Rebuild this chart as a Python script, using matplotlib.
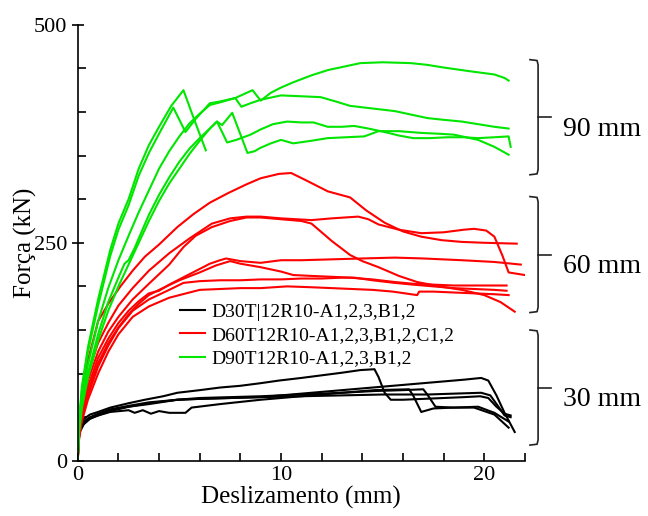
import matplotlib
matplotlib.use("Agg")
import matplotlib.pyplot as plt
from matplotlib.ticker import MultipleLocator, FixedLocator

plt.rcParams['font.family'] = ['Liberation Serif', 'DejaVu Serif']

# ---- 30 mm series (black) ----
b1_x = [0, 0.02, 0.1, 0.3, 0.6, 1.0, 1.6, 2.5, 3.3, 4.2, 4.9, 6.0, 7.0, 8.0, 9.0, 9.9, 11.0, 12.0, 13.0, 13.9, 14.6, 14.8, 15.1, 15.4, 16.0, 17.0, 18.0, 19.0, 19.8, 20.2, 20.6, 21.0, 21.3]
b1_y = [0, 28, 40, 48, 53, 56, 61, 66, 70, 74, 78, 81, 84, 86, 89, 92, 95, 98, 101, 104, 105, 96, 78, 70, 70, 71, 72, 73, 74, 72, 62, 54, 52]
b2_x = [0, 0.02, 0.1, 0.3, 0.6, 1.0, 1.6, 2.5, 3.5, 4.9, 6.0, 7.5, 9.0, 11.0, 13.0, 15.0, 17.0, 19.0, 19.85, 20.2, 20.6, 21.0, 21.5]
b2_y = [0, 25, 36, 44, 49, 52, 57, 62, 66, 70, 71, 72, 73, 77, 81, 85, 89, 93, 95, 92, 75, 55, 33]
b3_x = [0, 0.02, 0.1, 0.3, 0.6, 1.0, 1.6, 2.5, 2.8, 3.2, 3.6, 4.0, 4.5, 5.3, 5.6, 7.0, 9.0, 11.0, 13.0, 14.6, 16.3, 16.5, 16.9, 17.5, 18.5, 19.7, 20.5, 21.2]
b3_y = [0, 22, 33, 42, 48, 52, 56, 58, 55, 58, 54, 57, 55, 55, 61, 65, 70, 74, 78, 81, 82, 75, 56, 60, 61, 62, 55, 45]
b4_x = [0, 0.02, 0.1, 0.3, 0.6, 1.0, 1.6, 2.5, 3.5, 4.9, 6.0, 7.5, 9.0, 11.0, 13.0, 14.6, 16.0, 17.0, 17.2, 17.6, 18.5, 19.5, 20.5, 21.2]
b4_y = [0, 24, 35, 43, 49, 53, 58, 62, 65, 70, 72, 73, 74, 76, 78, 80, 81, 82, 76, 62, 61, 61, 53, 38]
b5_x = [0, 0.02, 0.1, 0.3, 0.6, 1.0, 1.6, 2.5, 3.5, 4.9, 6.0, 7.5, 9.0, 11.0, 13.0, 15.0, 17.2, 18.5, 19.85, 20.3, 20.7, 21.0, 21.3]
b5_y = [0, 26, 37, 45, 50, 54, 59, 63, 67, 70, 71, 72, 73, 74, 75, 76, 76, 77, 78, 75, 62, 52, 50]

# ---- 60 mm series (red) ----
r1_x = [0, 0.05, 0.2, 0.5, 1.0, 1.5, 2.1, 2.7, 3.3, 4.0, 4.9, 5.7, 6.5, 7.4, 8.3, 9.0, 9.9, 10.5, 11.2, 12.3, 13.4, 14.2, 15.1, 16.0, 16.9, 17.9, 18.9, 20.0, 21.6]
r1_y = [0, 40, 75, 115, 160, 180, 200, 218, 234, 248, 268, 283, 296, 307, 317, 324, 329, 330, 322, 309, 302, 287, 273, 263, 257, 253, 251, 250, 249]
r2_x = [0, 0.05, 0.2, 0.5, 1.0, 1.5, 2.0, 2.7, 3.5, 4.5, 5.5, 6.6, 7.5, 8.3, 9.0, 10.0, 11.5, 12.5, 13.8, 14.3, 14.8, 15.8, 16.9, 18.0, 19.0, 19.5, 20.1, 20.5, 20.9, 21.2, 22.0]
r2_y = [0, 35, 65, 100, 135, 158, 178, 198, 218, 238, 255, 272, 278, 280, 280, 278, 276, 278, 280, 277, 271, 265, 261, 262, 265, 266, 264, 257, 235, 216, 213]
r3_x = [0, 0.05, 0.2, 0.5, 1.0, 1.5, 2.0, 2.7, 3.5, 4.5, 5.2, 5.8, 6.6, 7.5, 8.3, 9.0, 10.0, 11.0, 11.5, 12.5, 13.4, 14.0, 14.8, 15.8, 16.7, 17.8, 18.9, 20.0, 20.8, 21.5]
r3_y = [0, 33, 60, 92, 125, 148, 165, 185, 203, 225, 245, 258, 268, 275, 279, 279, 277, 275, 272, 252, 236, 229, 222, 212, 205, 200, 196, 190, 182, 171]
r4_x = [0, 0.05, 0.2, 0.5, 1.0, 1.5, 2.0, 2.5, 3.0, 3.5, 4.0, 4.5, 5.0, 5.5, 6.0, 6.5, 7.0, 7.3, 8.0, 9.0, 10.0, 11.0, 12.5, 14.0, 15.6, 17.0, 18.9, 20.5, 21.8]
r4_y = [0, 30, 55, 85, 118, 140, 158, 172, 183, 192, 195, 202, 208, 214, 220, 226, 230, 232, 229, 227, 230, 230, 231, 232, 233, 232, 230, 228, 225]
r5_x = [0, 0.05, 0.2, 0.5, 1.0, 1.5, 2.0, 2.5, 3.0, 3.5, 4.0, 5.0, 6.0, 6.8, 7.5, 8.0, 9.0, 10.0, 10.6, 11.5, 12.5, 13.4, 14.5, 15.6, 16.5, 17.5, 18.5, 19.5, 20.5, 21.1]
r5_y = [0, 28, 52, 80, 112, 135, 153, 168, 180, 190, 196, 207, 216, 224, 229, 226, 222, 217, 213, 212, 211, 210, 208, 205, 203, 202, 201, 201, 201, 201]
r6_x = [0, 0.05, 0.2, 0.5, 1.0, 1.5, 2.0, 2.7, 3.5, 4.5, 5.2, 6.0, 7.0, 8.0, 9.0, 10.0, 11.0, 12.0, 13.0, 13.6, 14.5, 15.6, 16.5, 17.5, 18.5, 19.5, 20.5, 21.1]
r6_y = [0, 25, 48, 75, 108, 132, 152, 172, 185, 196, 204, 206, 207, 207, 208, 208, 209, 209, 210, 210, 207, 204, 202, 200, 198, 197, 196, 195]
r7_x = [0, 0.05, 0.2, 0.5, 1.0, 1.5, 2.0, 2.7, 3.5, 4.5, 5.5, 6.0, 7.0, 8.0, 9.0, 10.3, 11.5, 12.5, 13.5, 14.5, 15.5, 16.7, 16.8, 17.5, 18.5, 19.5, 20.5, 21.2]
r7_y = [0, 22, 45, 70, 100, 125, 145, 165, 177, 187, 193, 196, 197, 198, 198, 200, 199, 198, 197, 196, 194, 190, 194, 194, 193, 192, 191, 190]

# ---- 90 mm series (green) ----
g1_x = [0, 0.05, 0.2, 0.5, 1.0, 1.6, 2.0, 2.5, 3.0, 3.5, 4.0, 4.6, 5.2, 5.75, 6.3]
g1_y = [0, 40, 85, 130, 185, 242, 272, 300, 335, 362, 383, 407, 425, 390, 356]
g2_x = [0, 0.05, 0.2, 0.5, 1.0, 1.6, 2.0, 2.5, 3.0, 3.5, 4.0, 4.7, 5.3, 5.8, 6.5, 7.0, 7.75, 8.05, 8.5, 9.0, 10.0, 11.0, 11.95, 12.7, 13.4, 14.5, 15.6, 16.4, 17.2, 18.0, 18.9, 19.7, 20.5, 21.2]
g2_y = [0, 38, 80, 125, 178, 235, 265, 293, 327, 353, 375, 405, 377, 392, 410, 412, 416, 406, 410, 414, 419, 418, 417, 412, 407, 404, 401, 397, 393, 391, 389, 386, 383, 381]
g3_x = [0, 0.05, 0.2, 0.5, 1.0, 1.5, 2.0, 2.5, 3.0, 3.5, 4.0, 4.5, 5.0, 5.5, 6.0, 6.5, 7.0, 7.75, 8.6, 9.0, 9.5, 10.0, 10.6, 11.5, 12.3, 13.1, 13.9, 15.0, 16.4, 17.2, 18.0, 19.2, 20.5, 21.0, 21.2]
g3_y = [0, 35, 70, 110, 160, 198, 230, 258, 285, 310, 335, 355, 372, 387, 398, 408, 411, 416, 425, 413, 422, 428, 434, 442, 448, 452, 456, 457, 456, 454, 451, 447, 443, 439, 436]
g4_x = [0, 0.05, 0.2, 0.5, 1.0, 1.5, 2.0, 2.3, 2.5, 2.8, 3.0, 3.5, 4.0, 4.5, 5.0, 5.5, 6.0, 6.5, 6.85, 7.1, 7.6, 8.35, 8.7, 9.0, 9.5, 10.0, 10.3, 10.6, 11.5, 12.3, 13.2, 14.1, 14.8, 15.8, 16.9, 17.8, 18.5, 19.1, 19.7, 20.5, 21.2]
g4_y = [0, 32, 65, 100, 145, 182, 210, 226, 230, 244, 255, 282, 305, 325, 343, 358, 370, 381, 389, 385, 399, 353, 355, 359, 364, 368, 366, 364, 367, 370, 371, 372, 378, 378, 376, 375, 374, 371, 368, 360, 351]
g5_x = [0, 0.05, 0.2, 0.5, 1.0, 1.5, 2.0, 2.5, 3.0, 3.5, 4.0, 4.5, 5.0, 5.5, 6.0, 6.5, 6.85, 7.35, 7.8, 8.5, 9.0, 9.6, 10.3, 11.0, 11.6, 12.3, 13.0, 13.6, 14.3, 15.1, 15.8, 16.5, 17.3, 18.2, 19.0, 19.7, 20.5, 21.2, 21.3]
g5_y = [0, 30, 60, 95, 138, 172, 200, 225, 250, 275, 298, 318, 335, 352, 367, 381, 389, 365, 368, 374, 380, 386, 389, 388, 388, 383, 383, 384, 381, 377, 373, 370, 370, 371, 371, 370, 371, 372, 360]

labels = ['D30T|12R10-A1,2,3,B1,2', 'D60T12R10-A1,2,3,B1,2,C1,2', 'D90T12R10-A1,2,3,B1,2']
groups = ['90 mm', '60 mm', '30 mm']
group_top = [460, 303, 150]
group_bot = [328, 170, 18]

black = [(b1_x, b1_y), (b2_x, b2_y), (b3_x, b3_y), (b4_x, b4_y), (b5_x, b5_y)]
red = [(r1_x, r1_y), (r2_x, r2_y), (r3_x, r3_y), (r4_x, r4_y), (r5_x, r5_y), (r6_x, r6_y), (r7_x, r7_y)]
green = [(g1_x, g1_y), (g2_x, g2_y), (g3_x, g3_y), (g4_x, g4_y), (g5_x, g5_y)]

fig = plt.figure(figsize=(6.48, 5.16), dpi=100)
ax = fig.add_axes([0.120, 0.107, 0.690, 0.845])

lw = 1.5
for i, (x, y) in enumerate(black):
    ax.plot(x, y, color='black', lw=lw, label=labels[0] if i == 0 else None)
for i, (x, y) in enumerate(red):
    ax.plot(x, y, color='#ff0000', lw=lw, label=labels[1] if i == 0 else None)
for i, (x, y) in enumerate(green):
    ax.plot(x, y, color='#00e600', lw=lw, label=labels[2] if i == 0 else None)

ax.set_xlim(0, 22)
ax.set_ylim(0, 500)
ax.spines['top'].set_visible(False)
ax.spines['right'].set_visible(False)
ax.spines['left'].set_linewidth(1.2)
ax.spines['bottom'].set_linewidth(1.2)
ax.xaxis.set_major_locator(FixedLocator([0, 10, 20]))
ax.xaxis.set_minor_locator(MultipleLocator(2))
ax.yaxis.set_major_locator(FixedLocator([0, 250, 500]))
ax.yaxis.set_minor_locator(MultipleLocator(50))
ax.tick_params(which='both', direction='in', length=6, width=1.2, labelsize=16)
ax.tick_params(axis='y', which='major', direction='inout', length=8)
ax.set_xlabel('Deslizamento (mm)', fontsize=18, labelpad=1)
ax.set_ylabel('Força (kN)', fontsize=18, labelpad=-2)

ax.legend(loc='upper left', bbox_to_anchor=(0.229, 0.362), frameon=False, fontsize=14,
          handlelength=1.3, handletextpad=0.3, labelspacing=0.3, borderpad=0, borderaxespad=0)

# braces on the right
for name, top, bot in zip(groups, group_top, group_bot):
    mid = (top + bot) / 2
    ax.plot([22.25, 22.6, 22.65, 22.65, 22.6, 22.25], [top, top - 1, top - 6, bot + 6, bot + 1, bot],
            color='#222222', lw=1.2, clip_on=False)
    ax.plot([22.65, 23.3], [mid, mid], color='#222222', lw=1.2, clip_on=False)
    ax.text(23.9, mid - 14, name, fontsize=20, va='center', ha='left')

fig.savefig('out.png', dpi=100)
